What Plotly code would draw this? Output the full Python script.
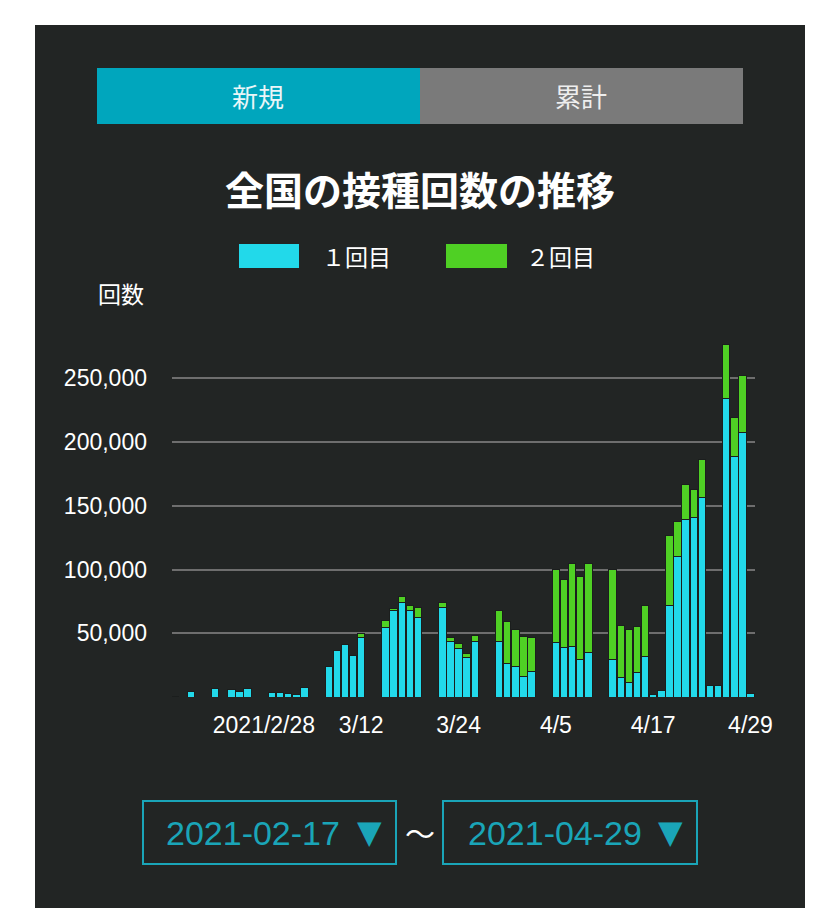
import plotly.graph_objects as go

# Daily vaccinations (Japan)
dates = [
    "2021-02-17", "2021-02-18", "2021-02-19", "2021-02-20", "2021-02-21", "2021-02-22",
    "2021-02-23", "2021-02-24", "2021-02-25", "2021-02-26", "2021-02-27", "2021-02-28",
    "2021-03-01", "2021-03-02", "2021-03-03", "2021-03-04", "2021-03-05", "2021-03-06",
    "2021-03-07", "2021-03-08", "2021-03-09", "2021-03-10", "2021-03-11", "2021-03-12",
    "2021-03-13", "2021-03-14", "2021-03-15", "2021-03-16", "2021-03-17", "2021-03-18",
    "2021-03-19", "2021-03-20", "2021-03-21", "2021-03-22", "2021-03-23", "2021-03-24",
    "2021-03-25", "2021-03-26", "2021-03-27", "2021-03-28", "2021-03-29", "2021-03-30",
    "2021-03-31", "2021-04-01", "2021-04-02", "2021-04-03", "2021-04-04", "2021-04-05",
    "2021-04-06", "2021-04-07", "2021-04-08", "2021-04-09", "2021-04-10", "2021-04-11",
    "2021-04-12", "2021-04-13", "2021-04-14", "2021-04-15", "2021-04-16", "2021-04-17",
    "2021-04-18", "2021-04-19", "2021-04-20", "2021-04-21", "2021-04-22", "2021-04-23",
    "2021-04-24", "2021-04-25", "2021-04-26", "2021-04-27", "2021-04-28", "2021-04-29",
]

first_dose = [
    125, 0, 4200, 0, 0, 6900,
    0, 6100, 4200, 6600, 0, 0,
    3400, 3400, 2600, 2100, 7100, 0,
    0, 24100, 36800, 41300, 32300, 46300,
    0, 0, 54800, 67800, 73800, 67800,
    62700, 0, 0, 70400, 43700, 38100,
    31300, 43700, 0, 0, 43400, 26600,
    23700, 15800, 19800, 0, 0, 43000,
    39000, 40000, 29800, 35000, 0, 0,
    29500, 15600, 11100, 19300, 31600, 2100,
    4800, 71700, 110200, 139500, 141000, 156500,
    8900, 8900, 234500, 188400, 207600, 2900,
]

second_dose = [
    0, 0, 0, 0, 0, 0,
    0, 0, 0, 0, 0, 0,
    0, 0, 0, 0, 0, 0,
    0, 0, 0, 0, 0, 3200,
    0, 0, 5000, 1600, 5300, 4200,
    7700, 0, 0, 4000, 2900, 4000,
    2800, 4200, 0, 0, 24300, 32400,
    29000, 31400, 26600, 0, 0, 57300,
    53000, 64800, 64800, 70100, 0, 0,
    70400, 40300, 42100, 36000, 40100, 0,
    0, 54700, 27700, 26900, 22000, 29800,
    0, 0, 42400, 31100, 44700, 0,
]

series_names = ["１回目", "２回目"]
x_tick_dates = ["2021-02-28", "2021-03-12", "2021-03-24", "2021-04-05", "2021-04-17", "2021-04-29"]
x_tick_labels = ["2021/2/28", "3/12", "3/24", "4/5", "4/17", "4/29"]
y_tick_vals = [50000, 100000, 150000, 200000, 250000]

W, H = 840, 920
CYAN = "#22d9ea"
GREEN = "#4fd024"
PANEL = "#222524"
TEAL = "#1aa5b8"
JP_FONT = "Noto Sans CJK JP"
LAT_FONT = "Liberation Sans"


def px(x):
    return x / W


def py(y):
    return 1 - y / H


fig = go.Figure()
day_ms = 86400000
for name, vals, col in [(series_names[0], first_dose, CYAN), (series_names[1], second_dose, GREEN)]:
    fig.add_trace(go.Bar(
        x=dates, y=vals, name=name,
        marker=dict(color=col, line=dict(color="#1b1e1d", width=1)),
        width=0.92 * day_ms,
        showlegend=False,
    ))

shapes = [
    # dark panel
    dict(type="rect", xref="paper", yref="paper", x0=px(35), x1=px(805), y0=py(908), y1=py(25),
         fillcolor=PANEL, line=dict(width=0), layer="below"),
    # toggle buttons
    dict(type="rect", xref="paper", yref="paper", x0=px(97), x1=px(420), y0=py(124), y1=py(68),
         fillcolor="#00a6bd", line=dict(width=0), layer="below"),
    dict(type="rect", xref="paper", yref="paper", x0=px(420), x1=px(743), y0=py(124), y1=py(68),
         fillcolor="#7a7a7a", line=dict(width=0), layer="below"),
    # legend swatches
    dict(type="rect", xref="paper", yref="paper", x0=px(239), x1=px(299), y0=py(268), y1=py(244),
         fillcolor=CYAN, line=dict(width=0), layer="below"),
    dict(type="rect", xref="paper", yref="paper", x0=px(446), x1=px(507), y0=py(268), y1=py(244),
         fillcolor=GREEN, line=dict(width=0), layer="below"),
    # date selectors
    dict(type="rect", xref="paper", yref="paper", x0=px(143), x1=px(396), y0=py(864), y1=py(801),
         line=dict(color=TEAL, width=2), layer="below"),
    dict(type="rect", xref="paper", yref="paper", x0=px(443), x1=px(697), y0=py(864), y1=py(801),
         line=dict(color=TEAL, width=2), layer="below"),
]


def label(text, x, y, size, color="white", family=JP_FONT, xanchor="center"):
    return dict(text=text, xref="paper", yref="paper", x=px(x), y=py(y), showarrow=False,
                xanchor=xanchor, yanchor="middle", font=dict(size=size, color=color, family=family))


annotations = [
    label("新規", 258, 96, 26, "#eaf6f8"),
    label("累計", 581, 96, 26, "#eeeeee"),
    label("<b>全国の接種回数の推移</b>", 420, 188, 39),
    label(series_names[0], 320, 256, 23, xanchor="left"),
    label(series_names[1], 524, 256, 23, xanchor="left"),
    label("回数", 96, 293, 23, xanchor="left"),
    label(dates[0], 253, 833, 34, TEAL, LAT_FONT),
    label("▼", 369, 832, 32, TEAL, "DejaVu Sans"),
    label("〜", 420, 832, 30),
    label(dates[-1], 555, 833, 34, TEAL, LAT_FONT),
    label("▼", 670, 832, 32, TEAL, "DejaVu Sans"),
]

fig.update_layout(
    width=W, height=H, autosize=False,
    margin=dict(l=0, r=0, t=0, b=0, autoexpand=False),
    paper_bgcolor="white",
    plot_bgcolor="rgba(0,0,0,0)",
    barmode="stack",
    shapes=shapes,
    annotations=annotations,
    xaxis=dict(
        type="date",
        automargin=False,
        domain=[px(172), px(755)],
        range=["2021-02-16 16:00", "2021-04-29 13:20"],
        tickvals=x_tick_dates, ticktext=x_tick_labels,
        tickfont=dict(size=23, color="white", family=LAT_FONT),
        showgrid=False, zeroline=False, showline=False, ticks="",
        ticklabelstandoff=12,
    ),
    yaxis=dict(
        automargin=False,
        domain=[py(697), py(330)],
        range=[0, 287900],
        tickvals=y_tick_vals, tickformat=",d",
        tickfont=dict(size=23, color="white", family=LAT_FONT),
        gridcolor="#6e6e6e", gridwidth=2,
        zeroline=False, showline=False, ticks="",
        ticklabelstandoff=24,
    ),
)

# drop the default page margin and scrollbars so the figure sits at 0,0 in the window
page_fix = (
    "document.body.style.margin='0';"
    "document.body.style.overflow='hidden';"
    "document.documentElement.style.overflow='hidden';"
)

fig.write_html(
    "out.html",
    config={"displayModeBar": False, "responsive": False},
    post_script=page_fix,
)
